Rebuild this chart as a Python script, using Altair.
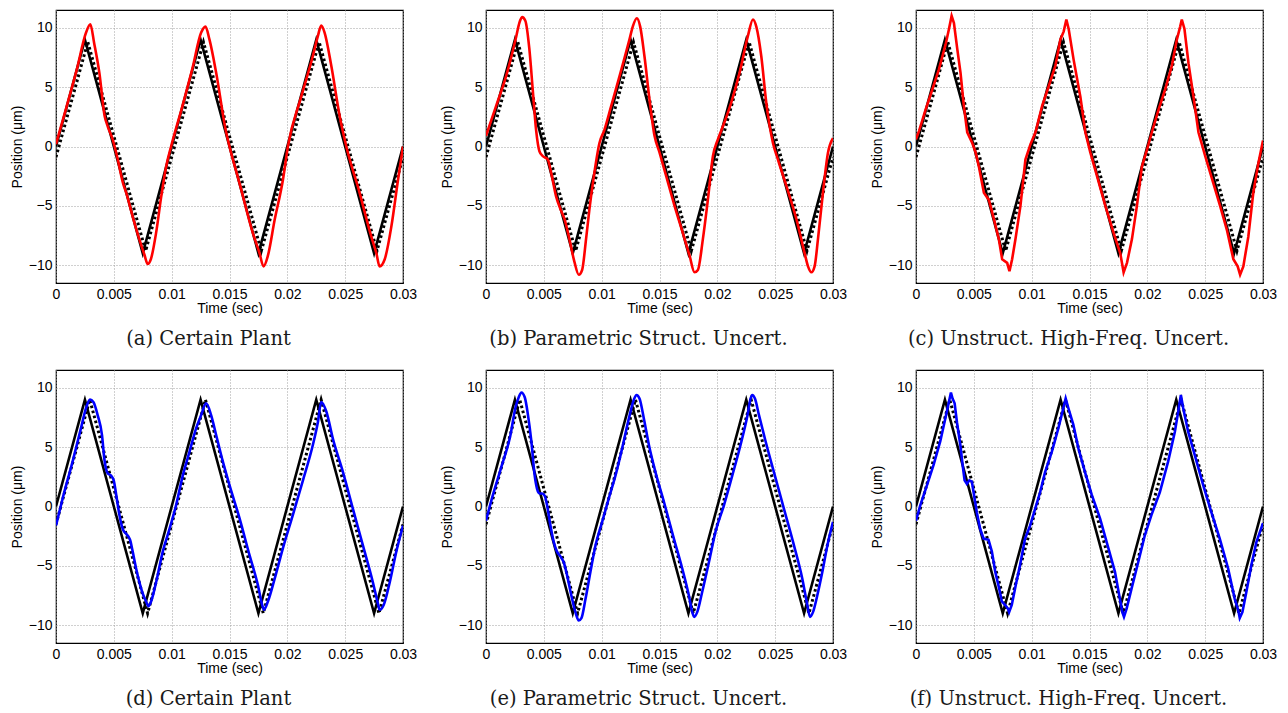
import altair as alt
import pandas as pd

# reference (black solid) and model reference (black dotted) vertices
ref_t = [0, 0.0025, 0.0075, 0.0125, 0.0175, 0.0225, 0.0275, 0.03]
ref_y = [0, 9, -9, 9, -9, 9, -9, 0]
dot_top_t = [0, 0.00275, 0.00775, 0.01275, 0.01775, 0.02275, 0.02775, 0.03]
dot_top_y = [-0.9, 8.8, -8.8, 8.8, -8.8, 8.8, -8.8, -0.9]
dot_bot_t = [0, 0.00292, 0.00792, 0.01292, 0.01792, 0.02292, 0.02792, 0.03]
dot_bot_y = [-1.5, 9.0, -9.0, 9.0, -9.0, 9.0, -9.0, -1.5]

# (a) Certain Plant - red
a_t = [0, 0.0009, 0.0018, 0.0026, 0.00297, 0.0033, 0.00375, 0.0042, 0.00447, 0.0049,
       0.00534, 0.00577, 0.0061, 0.00663, 0.0072, 0.00764, 0.00793, 0.0082, 0.00865, 0.0091,
       0.00952, 0.00995, 0.0109, 0.0118, 0.01255, 0.01292, 0.01327, 0.01385, 0.01471, 0.0150,
       0.01587, 0.01702, 0.0176, 0.01794, 0.01832, 0.0189, 0.01962, 0.02005, 0.0212, 0.0222,
       0.02264, 0.02293, 0.02322, 0.0238, 0.02452, 0.0251, 0.02625, 0.02726, 0.0277, 0.02798,
       0.02842, 0.029, 0.02957, 0.03]
a_y = [0.2, 3.3, 6.5, 9.6, 10.3, 8.7, 6.2, 2.6, 1.7, 0.6,
       -1.1, -3.0, -4.0, -5.9, -7.8, -9.1, -9.9, -9.5, -7.3, -4.2,
       -1.7, 0.0, 3.3, 6.6, 9.6, 10.1, 9.0, 6.2, 1.2, 0.0,
       -3.1, -7.3, -9.0, -10.1, -9.2, -6.2, -2.8, 0.0, 4.2, 7.6,
       9.3, 10.2, 9.6, 6.8, 2.6, 0.0, -3.9, -7.6, -9.0, -10.1,
       -9.5, -6.7, -2.8, 0.0]

# (b) Parametric Struct. Uncert. - red
b_t = [0, 0.00087, 0.00173, 0.0026, 0.00288, 0.00312, 0.0034, 0.00375, 0.00404, 0.00433,
       0.00462, 0.0049, 0.00534, 0.00563, 0.00606, 0.00649, 0.00678, 0.00721, 0.00764, 0.00802,
       0.00831, 0.00865, 0.00894, 0.00937, 0.00981, 0.01024, 0.01082, 0.01154, 0.0124, 0.01269,
       0.01304, 0.01333, 0.0137, 0.01413, 0.01457, 0.015, 0.01558, 0.0163, 0.01702, 0.0176,
       0.01803, 0.01832, 0.01875, 0.01918, 0.01962, 0.02005, 0.02048, 0.0212, 0.02192, 0.02264,
       0.02308, 0.02337, 0.0238, 0.02423, 0.02481, 0.02524, 0.02596, 0.02683, 0.02755, 0.02784,
       0.02813, 0.02841, 0.0287, 0.02913, 0.02957, 0.03]
b_y = [0.9, 3.4, 5.9, 9.2, 10.4, 10.9, 10.6, 8.2, 4.8, 1.4,
       -0.4, -0.8, -1.1, -2.2, -4.2, -5.4, -6.1, -7.8, -9.7, -10.8,
       -10.4, -7.8, -5.3, -2.2, 0.3, 1.4, 3.4, 5.9, 9.0, 10.1,
       10.8, 10.1, 7.6, 4.0, 0.9, -0.5, -2.5, -5.0, -7.3, -9.2,
       -10.6, -10.4, -7.8, -4.5, -0.8, 0.6, 1.7, 3.7, 6.2, 9.3,
       10.7, 10.1, 7.6, 3.7, 0.3, -1.1, -3.3, -6.1, -9.0, -10.1,
       -10.6, -10.1, -7.8, -3.9, -0.5, 0.7]

# (c) Unstruct. High-Freq. Uncert. - red
c_t = [0, 0.00026, 0.00083, 0.00141, 0.00198, 0.00256, 0.00285, 0.00308, 0.00328, 0.00357,
       0.00385, 0.00414, 0.00443, 0.00472, 0.00486, 0.00515, 0.00544, 0.00587, 0.0063, 0.00673,
       0.00716, 0.00745, 0.00788, 0.00808, 0.00831, 0.0086, 0.00903, 0.00946, 0.0099, 0.01033,
       0.0109, 0.01148, 0.01205, 0.01248, 0.01277, 0.013, 0.0132, 0.01363, 0.01421, 0.01464,
       0.01507, 0.01565, 0.01637, 0.01709, 0.01766, 0.01795, 0.01824, 0.01867, 0.0191, 0.01953,
       0.01996, 0.02039, 0.02097, 0.02154, 0.02212, 0.02255, 0.02284, 0.02298, 0.02321, 0.02356,
       0.02399, 0.02442, 0.025, 0.02571, 0.02629, 0.02687, 0.02744, 0.02781, 0.02802, 0.0283,
       0.02873, 0.02916, 0.0296, 0.03]
c_y = [0.6, 1.3, 3.1, 4.8, 6.5, 8.6, 9.9, 11.0, 10.4, 8.2,
       6.2, 3.4, 1.2, 0.6, 0.3, -0.5, -1.7, -3.9, -4.5, -6.1,
       -7.8, -9.5, -9.8, -10.5, -9.5, -7.8, -5.0, -1.1, 0.2, 1.2,
       3.4, 5.1, 6.8, 9.0, 9.7, 10.7, 9.9, 7.3, 4.2, 1.2,
       -0.5, -2.5, -5.0, -7.3, -9.0, -10.6, -9.8, -7.8, -5.0, -1.7,
       -0.3, 1.2, 3.1, 4.8, 6.8, 9.0, 10.1, 10.7, 9.9, 7.0,
       4.2, 1.2, -0.8, -3.1, -5.0, -7.0, -9.5, -10.1, -10.8, -10.1,
       -7.6, -3.9, -1.4, 0.5]

# (d) Certain Plant - blue
d_t = [0, 0.00058, 0.00144, 0.00216, 0.0026, 0.00294, 0.00323, 0.0036, 0.00398, 0.00418,
       0.00447, 0.00476, 0.00499, 0.00525, 0.00548, 0.00577, 0.00606, 0.0064, 0.00663, 0.00692,
       0.00727, 0.00756, 0.00779, 0.00799, 0.00822, 0.00865, 0.00923, 0.00981, 0.01038, 0.01096,
       0.01154, 0.01212, 0.01255, 0.01298, 0.01341, 0.01385, 0.01442, 0.015, 0.01587, 0.01673,
       0.01745, 0.01783, 0.01797, 0.01832, 0.0189, 0.01962, 0.02048, 0.02135, 0.02221, 0.02264,
       0.02293, 0.02337, 0.02394, 0.02481, 0.02567, 0.02654, 0.0274, 0.02784, 0.02798, 0.02833,
       0.02885, 0.02942, 0.03]
d_y = [-1.6, 0.7, 3.8, 6.6, 8.3, 9.0, 8.8, 7.7, 6.0, 4.0,
       2.8, 2.6, 2.2, 0.7, -0.7, -1.9, -2.3, -2.8, -3.8, -5.2,
       -6.6, -7.5, -8.0, -8.4, -8.0, -6.4, -3.8, -1.9, 0.1, 2.6,
       4.6, 6.6, 7.7, 8.7, 7.7, 6.0, 3.8, 1.8, -1.0, -4.1,
       -6.6, -8.3, -8.7, -8.0, -6.1, -3.5, -0.7, 2.2, 5.2, 7.1,
       8.8, 8.0, 5.7, 2.9, -0.2, -3.3, -6.4, -8.2, -8.7, -8.3,
       -6.4, -3.8, -1.6]

# (e) Parametric Struct. Uncert. - blue
e_t = [0, 0.00052, 0.00138, 0.00211, 0.00254, 0.00283, 0.00306, 0.00335, 0.00363, 0.00392,
       0.00421, 0.00441, 0.00462, 0.00485, 0.00508, 0.00528, 0.00557, 0.00586, 0.00614, 0.00643,
       0.00672, 0.00701, 0.00738, 0.00773, 0.00802, 0.00825, 0.0086, 0.00903, 0.00946, 0.01004,
       0.01062, 0.01119, 0.01177, 0.01235, 0.01278, 0.01301, 0.01327, 0.01365, 0.01408, 0.01465,
       0.01538, 0.01624, 0.01696, 0.01754, 0.01783, 0.018, 0.01826, 0.01869, 0.01927, 0.01985,
       0.02057, 0.02129, 0.02201, 0.02259, 0.02288, 0.02302, 0.02325, 0.0236, 0.02417, 0.02489,
       0.02576, 0.02663, 0.02735, 0.02778, 0.02801, 0.02827, 0.02864, 0.02908, 0.02951, 0.03]
e_y = [-1.2, 0.7, 3.5, 6.0, 8.3, 9.2, 9.6, 9.2, 7.7, 5.5,
       2.6, 1.5, 1.1, 1.1, 0.9, 0.1, -1.6, -3.0, -3.8, -4.2,
       -4.7, -5.8, -7.5, -8.9, -9.6, -9.4, -7.8, -5.5, -3.3, -1.3,
       0.7, 2.6, 4.9, 7.4, 9.0, 9.4, 9.1, 7.4, 5.2, 2.9,
       0.4, -2.7, -5.2, -7.5, -8.9, -9.3, -8.9, -7.2, -4.7, -2.1,
       0.1, 2.6, 5.2, 7.6, 9.1, 9.4, 9.1, 7.7, 5.5, 2.9,
       -0.2, -3.3, -6.1, -8.3, -9.3, -8.9, -7.5, -5.5, -3.3, -1.3]

# (f) Unstruct. High-Freq. Uncert. - blue
f_t = [0, 0.00037, 0.00095, 0.00152, 0.0021, 0.00253, 0.00282, 0.00302, 0.00316, 0.00334,
       0.00354, 0.00383, 0.00403, 0.0042, 0.0044, 0.00461, 0.00483, 0.00506, 0.00526, 0.00555,
       0.00584, 0.00627, 0.00656, 0.00685, 0.00719, 0.00742, 0.00771, 0.00794, 0.00805, 0.00828,
       0.00863, 0.009, 0.00943, 0.00987, 0.0103, 0.01073, 0.01116, 0.01174, 0.01231, 0.01274,
       0.01294, 0.01317, 0.0136, 0.01404, 0.01461, 0.01519, 0.01591, 0.01663, 0.0172, 0.01763,
       0.01784, 0.01798, 0.01821, 0.01864, 0.01921, 0.01979, 0.02036, 0.02108, 0.0218, 0.02238,
       0.02267, 0.0229, 0.0231, 0.02353, 0.02411, 0.02483, 0.02554, 0.02626, 0.02698, 0.02756,
       0.02785, 0.02799, 0.02822, 0.02856, 0.029, 0.02943, 0.03]
f_y = [-1.2, 0.1, 1.8, 3.5, 5.5, 7.4, 8.7, 9.6, 9.1, 8.7,
       7.1, 5.2, 3.5, 2.2, 1.9, 2.2, 2.1, 0.7, -0.5, -1.9,
       -2.7, -2.8, -3.8, -5.5, -6.9, -8.0, -8.3, -8.6, -8.9, -8.3,
       -6.6, -4.9, -2.7, -1.6, -0.2, 1.2, 2.9, 4.6, 6.6, 8.3,
       9.1, 8.3, 6.9, 4.9, 2.9, 1.0, -1.0, -3.5, -5.5, -7.8,
       -8.9, -9.3, -8.6, -6.9, -4.7, -2.4, -0.7, 1.2, 3.8, 6.3,
       8.0, 9.4, 8.3, 6.3, 4.3, 1.8, -0.5, -2.7, -5.2, -7.8,
       -8.7, -9.4, -8.9, -7.2, -4.9, -3.0, -1.4]

x_ticks = [0, 0.005, 0.01, 0.015, 0.02, 0.025, 0.03]
y_ticks = [-10, -5, 0, 5, 10]

RED = "#ff0000"
BLUE = "#0000ff"


def df(t, y):
    n = min(len(t), len(y))
    return pd.DataFrame({"t": t[:n], "y": y[:n]})


def panel(rt, ry, color, dt, dy, caption, interp):
    x = alt.X("t:Q", scale=alt.Scale(domain=[0, 0.03], nice=False, zero=False),
              axis=alt.Axis(values=x_ticks, format="~g", title="Time (sec)"))
    y = alt.Y("y:Q", scale=alt.Scale(domain=[-11.5, 11.5], nice=False, zero=False),
              axis=alt.Axis(values=y_ticks, title="Position (μm)"))
    ref = alt.Chart(df(ref_t, ref_y)).mark_line(
        color="black", strokeWidth=2.6, clip=True).encode(x=x, y=y)
    dot = alt.Chart(df(dt, dy)).mark_line(
        color="black", strokeWidth=3, strokeDash=[2.6, 2.6], strokeCap="butt",
        clip=True).encode(x=x, y=y)
    resp = alt.Chart(df(rt, ry)).mark_line(
        color=color, strokeWidth=2.6, interpolate=interp, clip=True).encode(x=x, y=y)
    return alt.layer(ref, dot, resp).properties(
        width=347, height=273,
        title=alt.TitleParams(caption, orient="bottom", anchor="middle", frame="group",
                              offset=15, dx=-21, font="DejaVu Serif", fontSize=19.5,
                              fontWeight="normal", color="#1a1a1a"))


panels = [
    panel(a_t, a_y, RED, dot_top_t, dot_top_y, "(a) Certain Plant", "monotone"),
    panel(b_t, b_y, RED, dot_top_t, dot_top_y, "(b) Parametric Struct. Uncert.", "monotone"),
    panel(c_t, c_y, RED, dot_top_t, dot_top_y, "(c) Unstruct. High-Freq. Uncert.", "linear"),
    panel(d_t, d_y, BLUE, dot_bot_t, dot_bot_y, "(d) Certain Plant", "monotone"),
    panel(e_t, e_y, BLUE, dot_bot_t, dot_bot_y, "(e) Parametric Struct. Uncert.", "monotone"),
    panel(f_t, f_y, BLUE, dot_bot_t, dot_bot_y, "(f) Unstruct. High-Freq. Uncert.", "linear"),
]

chart = alt.concat(*panels, columns=3, spacing={"row": 87, "column": 83},
                   bounds="flush").properties(
    padding={"top": 1, "left": 1, "right": 0, "bottom": 0}
).configure_axis(
    labelFont="Liberation Sans", labelFontSize=14, labelColor="black",
    titleFont="Liberation Sans", titleFontSize=14, titleFontWeight="normal", titleColor="black",
    grid=True, gridColor="#a0a0a0", gridDash=[1, 2], gridWidth=1,
    domain=False, ticks=False, tickSize=0, labelPadding=4,
    labelFlush=False, labelOverlap=False,
).configure_axisX(titlePadding=0).configure_axisY(titlePadding=4).configure_view(
    stroke="black", strokeWidth=1.2
)

chart.save("out.html", embed_options={"renderer": "svg", "actions": False})
